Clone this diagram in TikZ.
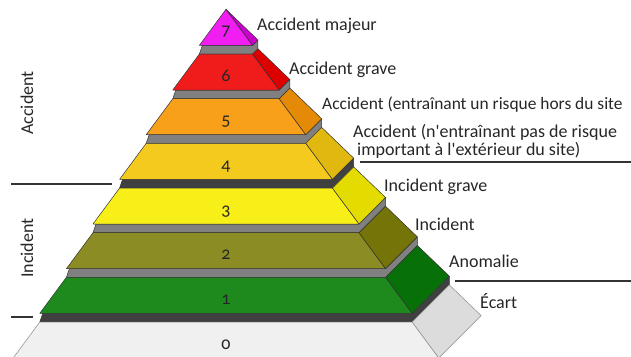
\documentclass[tikz,border=0pt]{standalone}
\usepackage{fontspec}
\setmainfont{Carlito}[Numbers=OldStyle]
\definecolor{frontseven}{RGB}{240,30,240}
\definecolor{sideseven}{RGB}{205,0,205}
\definecolor{frontsix}{RGB}{240,28,28}
\definecolor{sidesix}{RGB}{220,0,0}
\definecolor{frontfive}{RGB}{248,160,26}
\definecolor{sidefive}{RGB}{228,138,6}
\definecolor{frontfour}{RGB}{244,202,30}
\definecolor{sidefour}{RGB}{224,184,16}
\definecolor{frontthree}{RGB}{248,238,24}
\definecolor{sidethree}{RGB}{228,220,0}
\definecolor{fronttwo}{RGB}{140,140,36}
\definecolor{sidetwo}{RGB}{116,116,8}
\definecolor{frontone}{RGB}{30,138,30}
\definecolor{sideone}{RGB}{8,112,8}
\definecolor{frontzero}{RGB}{240,240,240}
\definecolor{sidezero}{RGB}{220,220,220}
\definecolor{bandgrey}{RGB}{128,128,128}
\definecolor{banddark}{RGB}{64,64,64}
\tikzset{
  face/.style={draw=black!80, line width=0.5pt, line join=round},
  paleface/.style={draw=black!45, line width=0.5pt, line join=round},
  levelnum/.style={font=\fontsize{18}{20}\selectfont, text=black!85, anchor=base, inner sep=0pt},
  levelname/.style={font=\fontsize{18}{18}\selectfont, text=black!85, anchor=base west, inner sep=0pt},
  sepline/.style={draw=black!80, line width=1.5pt}
}
\begin{document}
\begin{tikzpicture}[x=1pt, y=-1pt]
\useasboundingbox (0,0) rectangle (631,356);
% level 0
\filldraw[face, fill=banddark] (39.8,322) -- (412.2,322) -- (449.3,284.9) -- (449.3,276.2) -- (412.2,313.3) -- (42.8,313.3) -- cycle;
\filldraw[paleface, fill=frontzero] (39.8,322) -- (412.2,322) -- (438.8,358) -- (13.2,358) -- cycle;
\filldraw[paleface, fill=sidezero] (412.2,322) -- (449.3,284.9) -- (481.2,315.6) -- (438.8,358) -- cycle;
% level 1
\filldraw[face, fill=bandgrey] (66.4,277.3) -- (385.6,277.3) -- (417.4,245.5) -- (417.4,236.9) -- (385.6,268.7) -- (69.4,268.7) -- cycle;
\filldraw[face, fill=frontone] (66.4,277.3) -- (385.6,277.3) -- (412.2,313.3) -- (39.8,313.3) -- cycle;
\filldraw[face, fill=sideone] (385.6,277.3) -- (417.4,245.5) -- (449.3,276.2) -- (412.2,313.3) -- cycle;
% level 2
\filldraw[face, fill=bandgrey] (93,232.7) -- (359,232.7) -- (385.5,206.2) -- (385.5,197.5) -- (359,224) -- (96,224) -- cycle;
\filldraw[face, fill=fronttwo] (93,232.7) -- (359,232.7) -- (385.6,268.7) -- (66.4,268.7) -- cycle;
\filldraw[face, fill=sidetwo] (359,232.7) -- (385.5,206.2) -- (417.4,236.9) -- (385.6,268.7) -- cycle;
% level 3
\filldraw[face, fill=banddark] (119.6,188) -- (332.4,188) -- (353.6,166.8) -- (353.6,158.1) -- (332.4,179.3) -- (122.6,179.3) -- cycle;
\filldraw[face, fill=frontthree] (119.6,188) -- (332.4,188) -- (359,224) -- (93,224) -- cycle;
\filldraw[face, fill=sidethree] (332.4,188) -- (353.6,166.8) -- (385.5,197.5) -- (359,224) -- cycle;
% level 4
\filldraw[face, fill=bandgrey] (146.2,143.3) -- (305.8,143.3) -- (321.7,127.4) -- (321.7,118.8) -- (305.8,134.7) -- (149.2,134.7) -- cycle;
\filldraw[face, fill=frontfour] (146.2,143.3) -- (305.8,143.3) -- (332.4,179.3) -- (119.6,179.3) -- cycle;
\filldraw[face, fill=sidefour] (305.8,143.3) -- (321.7,127.4) -- (353.6,158.1) -- (332.4,179.3) -- cycle;
% level 5
\filldraw[face, fill=bandgrey] (172.8,98.7) -- (279.2,98.7) -- (289.8,88.1) -- (289.8,79.4) -- (279.2,90) -- (175.8,90) -- cycle;
\filldraw[face, fill=frontfive] (172.8,98.7) -- (279.2,98.7) -- (305.8,134.7) -- (146.2,134.7) -- cycle;
\filldraw[face, fill=sidefive] (279.2,98.7) -- (289.8,88.1) -- (321.7,118.8) -- (305.8,134.7) -- cycle;
% level 6
\filldraw[face, fill=bandgrey] (199.4,54) -- (252.6,54) -- (257.9,48.7) -- (257.9,40) -- (252.6,45.3) -- (202.4,45.3) -- cycle;
\filldraw[face, fill=frontsix] (199.4,54) -- (252.6,54) -- (279.2,90) -- (172.8,90) -- cycle;
\filldraw[face, fill=sidesix] (252.6,54) -- (257.9,48.7) -- (289.8,79.4) -- (279.2,90) -- cycle;
% level 7
\filldraw[face, fill=frontseven] (226,9.3) -- (252.6,45.3) -- (199.4,45.3) -- cycle;
\filldraw[face, fill=sideseven] (226,9.3) -- (257.9,40) -- (252.6,45.3) -- cycle;
% numbers
\node[levelnum] (n7) at (226,35.5) {7};
\node[levelnum] (n6) at (226,81) {6};
\node[levelnum] (n5) at (226,125.5) {5};
\node[levelnum] (n4) at (226,170.3) {4};
\node[levelnum] (n3) at (226,215) {3};
\node[levelnum] (n2) at (226,259.5) {2};
\node[levelnum] (n1) at (226,304) {1};
\node[levelnum] (n0) at (226,349) {0};
% names
\node[levelname] (majeur) at (257,30) {Accident majeur};
\node[levelname] (grave) at (289,74) {Accident grave};
\node[levelname, font=\fontsize{17.4}{18}\selectfont] (hors) at (322,109) {Accident (entraînant un risque hors du site};
\node[levelname, align=left] (nonhors) at (353,155) {Accident (n\textquotesingle entraînant pas de risque\\\hspace*{4pt}important à l\textquotesingle extérieur du site)};
\node[levelname] (igrave) at (384,191) {Incident grave};
\node[levelname] (incident) at (415,230) {Incident};
\node[levelname] (anomalie) at (449,267) {Anomalie};
\node[levelname] (ecart) at (480,308) {Écart};
% classes
\node[font=\fontsize{18}{20}\selectfont, text=black!85, rotate=90] (accident) at (27,103) {Accident};
\node[font=\fontsize{18}{20}\selectfont, text=black!85, rotate=90] (incidents) at (27,248) {Incident};
\draw[sepline] (11,184) -- (112,184);
\draw[sepline] (11,317) -- (33,317);
\draw[sepline] (360,162) -- (631,162);
\draw[sepline] (455,281) -- (631,281);
\end{tikzpicture}
\end{document}
